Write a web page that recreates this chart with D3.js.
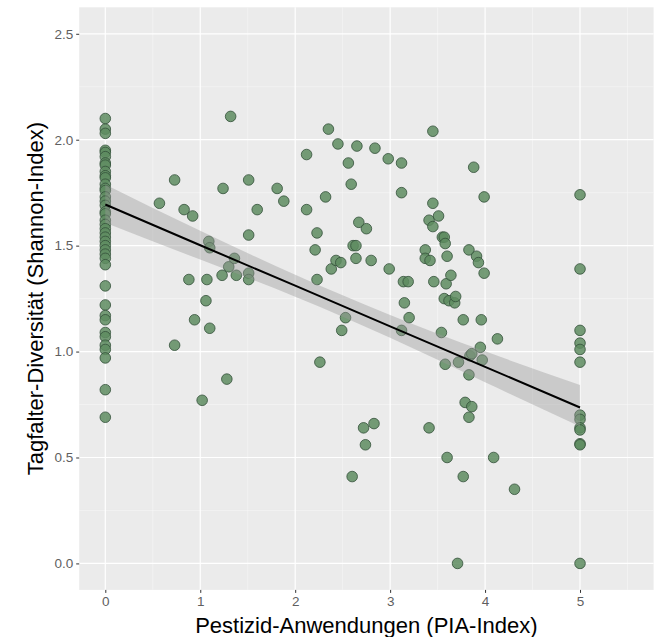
<!DOCTYPE html>
<html>
<head>
<meta charset="utf-8">
<script src="https://d3js.org/d3.v7.min.js"></script>
<style>
  body { margin: 0; background: #fff; }
  svg { display: block; font-family: "Liberation Sans", Arial, sans-serif; }
</style>
</head>
<body>
<div id="chart"></div>
<script>
// PIA index (x) and Shannon index (y)
var piaIndex = [
  0, 0, 0, 0, 0, 0, 0, 0, 0, 0, 0, 0, 0, 0, 0, 0, 0, 0, 0, 0, 0, 0, 0, 0, 0, 0, 0, 0, 0, 0, 0, 0, 0, 0, 0, 0, 0, 0, 0, 0, 0,
  0.57, 0.73, 0.73, 0.83, 0.92, 0.88, 0.94, 1.02, 1.06, 1.07, 1.09, 1.10, 1.10, 1.24, 1.23, 1.28, 1.30, 1.32, 1.38, 1.36,
  1.51, 1.51, 1.51, 1.51, 1.60, 1.81, 1.88, 2.12, 2.12, 2.23, 2.21, 2.23, 2.26, 2.32, 2.35, 2.38, 2.43, 2.48, 2.45, 2.49,
  2.53, 2.56, 2.59, 2.60, 2.61, 2.64, 2.64, 2.65, 2.67, 2.75, 2.72, 2.74, 2.80, 2.84, 2.83, 2.98, 2.99, 3.12, 3.12, 3.12,
  3.14, 3.15, 3.19, 3.20, 3.37, 3.37, 3.41, 3.42, 3.45, 3.45, 3.45, 3.46, 3.41, 3.51, 3.54, 3.55, 3.57, 3.58, 3.59, 3.57,
  3.60, 3.58, 3.60, 3.64, 3.62, 3.68, 3.69, 3.72, 3.71, 3.77, 3.77, 3.79, 3.83, 3.83, 3.86, 3.83, 3.84, 3.86, 3.88, 3.91,
  3.93, 3.95, 3.96, 3.97, 3.99, 3.99, 4.09, 4.13, 4.31,
  5, 5, 5, 5, 5, 5, 5, 5, 5, 5, 5, 5, 5
];
var shannon = [
  2.10, 2.05, 2.03, 1.95, 1.94, 1.92, 1.89, 1.88, 1.85, 1.83, 1.82, 1.79, 1.77, 1.76, 1.73, 1.71, 1.69, 1.66, 1.65, 1.62,
  1.60, 1.58, 1.56, 1.54, 1.52, 1.50, 1.48, 1.46, 1.44, 1.41, 1.31, 1.22, 1.17, 1.15, 1.09, 1.07, 1.03, 1.01, 0.97, 0.82, 0.69,
  1.70, 1.81, 1.03, 1.67, 1.64, 1.34, 1.15, 0.77, 1.24, 1.34, 1.52, 1.49, 1.11, 1.77, 1.36, 0.87, 1.40, 2.11, 1.36, 1.44,
  1.37, 1.34, 1.55, 1.81, 1.67, 1.77, 1.71, 1.93, 1.67, 1.56, 1.48, 1.34, 0.95, 1.73, 2.05, 1.39, 1.43, 1.42, 1.98, 1.10,
  1.16, 1.89, 1.79, 0.41, 1.50, 1.50, 1.44, 1.97, 1.61, 1.58, 0.64, 0.56, 1.43, 1.96, 0.66, 1.91, 1.39, 1.89, 1.75, 1.10,
  1.33, 1.23, 1.33, 1.16, 1.48, 1.44, 1.62, 1.43, 2.04, 1.70, 1.59, 1.33, 0.64, 1.64, 1.09, 1.54, 1.54, 1.51, 1.32, 1.25,
  1.45, 0.94, 0.50, 1.36, 1.24, 1.23, 1.26, 0.95, 0.00, 1.15, 0.41, 0.76, 1.48, 0.69, 0.74, 0.89, 0.98, 0.99, 1.87, 1.45,
  1.42, 1.02, 1.15, 0.96, 1.73, 1.37, 0.50, 1.06, 0.35,
  1.74, 1.39, 1.10, 1.04, 1.01, 0.95, 0.70, 0.68, 0.64, 0.63, 0.565, 0.56, 0.00
];

// linear fit with 95% band
var fitX = [0, 1, 2, 3, 4, 5];
var fitY = [1.694, 1.502, 1.311, 1.119, 0.928, 0.736];
var fitLow = [1.608, 1.434, 1.259, 1.065, 0.855, 0.646];
var fitHigh = [1.789, 1.570, 1.363, 1.173, 1.001, 0.842];

var xTicks = [0, 1, 2, 3, 4, 5];
var yTicks = [0, 0.5, 1, 1.5, 2, 2.5];
var xMinor = [0.5, 1.5, 2.5, 3.5, 4.5, 5.5];
var yMinor = [0.25, 0.75, 1.25, 1.75, 2.25];

var width = 654, height = 637;
var panel = { left: 79.2, right: 653.6, top: 7.3, bottom: 589.9 };

var svg = d3.select('#chart').append('svg')
    .attr('width', width)
    .attr('height', height);

var x = d3.scaleLinear().domain([-0.275, 5.775]).range([panel.left, panel.right]);
var y = d3.scaleLinear().domain([-0.125, 2.625]).range([panel.bottom, panel.top]);

// panel background
svg.append('rect')
    .attr('x', panel.left)
    .attr('y', panel.top)
    .attr('width', panel.right - panel.left)
    .attr('height', panel.bottom - panel.top)
    .attr('fill', '#ebebeb');

var grid = svg.append('g');
grid.selectAll('.vminor').data(xMinor).enter().append('line')
    .attr('x1', d => x(d)).attr('x2', d => x(d))
    .attr('y1', panel.top).attr('y2', panel.bottom)
    .attr('stroke', '#f7f7f7').attr('stroke-width', 0.6);
grid.selectAll('.hminor').data(yMinor).enter().append('line')
    .attr('y1', d => y(d)).attr('y2', d => y(d))
    .attr('x1', panel.left).attr('x2', panel.right)
    .attr('stroke', '#f7f7f7').attr('stroke-width', 0.6);
grid.selectAll('.vmajor').data(xTicks).enter().append('line')
    .attr('x1', d => x(d)).attr('x2', d => x(d))
    .attr('y1', panel.top).attr('y2', panel.bottom)
    .attr('stroke', '#ffffff').attr('stroke-width', 1.2);
grid.selectAll('.hmajor').data(yTicks).enter().append('line')
    .attr('y1', d => y(d)).attr('y2', d => y(d))
    .attr('x1', panel.left).attr('x2', panel.right)
    .attr('stroke', '#ffffff').attr('stroke-width', 1.2);

// points
var points = piaIndex.map((d, i) => ({ x: d, y: shannon[i] }));
svg.append('g').selectAll('circle').data(points).enter().append('circle')
    .attr('cx', d => x(d.x))
    .attr('cy', d => y(d.y))
    .attr('r', 5.3)
    .attr('fill', '#5e8c60')
    .attr('fill-opacity', 0.85)
    .attr('stroke', '#33503a')
    .attr('stroke-opacity', 0.8)
    .attr('stroke-width', 1);

// confidence band + fit line
var band = fitX.map((d, i) => ({ x: d, lo: fitLow[i], hi: fitHigh[i], fit: fitY[i] }));
svg.append('path')
    .datum(band)
    .attr('d', d3.area()
        .x(d => x(d.x))
        .y0(d => y(d.lo))
        .y1(d => y(d.hi))
        .curve(d3.curveNatural))
    .attr('fill', '#999999')
    .attr('fill-opacity', 0.4);
svg.append('path')
    .datum(band)
    .attr('d', d3.line().x(d => x(d.x)).y(d => y(d.fit)))
    .attr('fill', 'none')
    .attr('stroke', '#000')
    .attr('stroke-width', 2);

// axes
var xAxis = svg.append('g')
    .attr('transform', 'translate(0,' + panel.bottom + ')')
    .call(d3.axisBottom(x).tickValues(xTicks).tickFormat(d3.format('d')).tickSize(3).tickPadding(4));
var yAxis = svg.append('g')
    .attr('transform', 'translate(' + panel.left + ',0)')
    .call(d3.axisLeft(y).tickValues(yTicks).tickFormat(d3.format('.1f')).tickSize(3).tickPadding(3));
[xAxis, yAxis].forEach(function (a) {
    a.select('.domain').remove();
    a.selectAll('.tick line').attr('stroke', '#333333');
    a.selectAll('.tick text')
        .attr('fill', '#5f5f5f')
        .style('font-size', '13.5px')
        .style('font-family', '"Liberation Sans", Arial, sans-serif');
});

// axis titles
svg.append('text')
    .attr('x', (panel.left + panel.right) / 2)
    .attr('y', 633)
    .attr('text-anchor', 'middle')
    .style('font-size', '22px')
    .attr('fill', '#000')
    .text('Pestizid-Anwendungen (PIA-Index)');
svg.append('text')
    .attr('transform', 'translate(43,' + (panel.top + panel.bottom) / 2 + ') rotate(-90)')
    .attr('text-anchor', 'middle')
    .style('font-size', '22px')
    .attr('fill', '#000')
    .text('Tagfalter-Diversität (Shannon-Index)');
</script>
</body>
</html>
